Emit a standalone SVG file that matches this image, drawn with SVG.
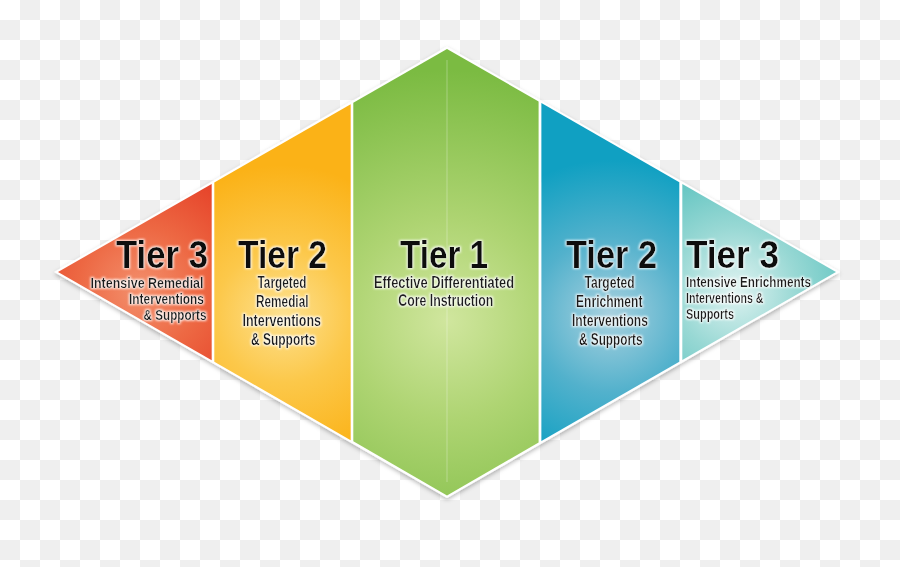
<svg xmlns="http://www.w3.org/2000/svg" width="900" height="567" viewBox="0 0 900 567">
  <defs>
    <pattern id="checker" width="40" height="40" patternUnits="userSpaceOnUse">
      <rect width="40" height="40" fill="#ffffff"/>
      <rect x="20" y="0" width="20" height="20" fill="#efefef"/>
      <rect x="0" y="20" width="20" height="20" fill="#efefef"/>
    </pattern>
    <filter id="shadow" x="-5%" y="-5%" width="110%" height="115%">
      <feDropShadow dx="0" dy="2" stdDeviation="2.2" flood-color="#000" flood-opacity="0.28"/>
    </filter>
    <filter id="halo" x="-10%" y="-30%" width="120%" height="160%">
      <feMorphology in="SourceAlpha" operator="dilate" radius="1.2" result="d"/>
      <feGaussianBlur in="d" stdDeviation="1" result="b"/>
      <feFlood flood-color="#ffffff" flood-opacity="0.85"/>
      <feComposite in2="b" operator="in" result="g"/>
      <feMerge><feMergeNode in="g"/><feMergeNode in="SourceGraphic"/></feMerge>
    </filter>
    <radialGradient id="gRed" gradientUnits="userSpaceOnUse" cx="140" cy="290" r="125">
      <stop offset="0" stop-color="#f3906d"/>
      <stop offset="0.5" stop-color="#ed6843"/>
      <stop offset="1" stop-color="#e6442a"/>
    </radialGradient>
    <radialGradient id="gOrange" gradientUnits="userSpaceOnUse" cx="283" cy="315" r="150">
      <stop offset="0" stop-color="#fde191"/>
      <stop offset="0.45" stop-color="#fcc84a"/>
      <stop offset="1" stop-color="#fbb217"/>
    </radialGradient>
    <radialGradient id="gGreen" gradientUnits="userSpaceOnUse" cx="447" cy="320" r="250">
      <stop offset="0" stop-color="#d0e69e"/>
      <stop offset="0.4" stop-color="#aed472"/>
      <stop offset="1" stop-color="#7bbb42"/>
    </radialGradient>
    <radialGradient id="gBlue" gradientUnits="userSpaceOnUse" cx="610" cy="315" r="155">
      <stop offset="0" stop-color="#a9d1df"/>
      <stop offset="0.5" stop-color="#52b1cc"/>
      <stop offset="1" stop-color="#10a0c2"/>
    </radialGradient>
    <radialGradient id="gTeal" gradientUnits="userSpaceOnUse" cx="735" cy="290" r="125">
      <stop offset="0" stop-color="#e0f3f1"/>
      <stop offset="0.5" stop-color="#98d8d4"/>
      <stop offset="1" stop-color="#5ec3c0"/>
    </radialGradient>
  </defs>
  <style>
    .tier { font-family: "Liberation Sans", Arial, sans-serif; font-weight: bold; font-size: 38px; fill: #111; }
    .sub { font-family: "Liberation Sans", Arial, sans-serif; font-weight: bold; font-size: 16px; fill: #1a1a1a; }
    .sub3 { font-family: "Liberation Sans", Arial, sans-serif; font-weight: bold; font-size: 15px; fill: #1a1a1a; }
    .txt { filter: url(#halo); }
  </style>

  <rect id="background" width="900" height="567" fill="url(#checker)"/>

  <g id="frame">
    <polygon points="54,272 447,46.5 840,272 447,498" fill="#ffffff" filter="url(#shadow)"/>
  </g>

  <g id="tier3-remedial">
    <polygon points="58,272 211.7,183.9 211.7,360.3" fill="url(#gRed)"/>
    <g class="txt">
      <text class="tier" x="116" y="268" textLength="92" lengthAdjust="spacingAndGlyphs">Tier 3</text>
      <text class="sub3" x="90.5" y="287.5" textLength="113" lengthAdjust="spacingAndGlyphs">Intensive Remedial</text>
      <text class="sub3" x="129" y="303.5" textLength="75" lengthAdjust="spacingAndGlyphs">Interventions</text>
      <text class="sub3" x="143.5" y="319.5" textLength="63" lengthAdjust="spacingAndGlyphs">&amp; Supports</text>
    </g>
  </g>

  <g id="tier2-remedial">
    <polygon points="214.3,182.4 350.7,104.2 350.7,440.2 214.3,361.8" fill="url(#gOrange)"/>
    <g class="txt">
      <text class="tier" x="238" y="267.5" textLength="89" lengthAdjust="spacingAndGlyphs">Tier 2</text>
      <text class="sub" x="257.5" y="287.5" textLength="49" lengthAdjust="spacingAndGlyphs">Targeted</text>
      <text class="sub" x="256" y="306.5" textLength="52.5" lengthAdjust="spacingAndGlyphs">Remedial</text>
      <text class="sub" x="242.5" y="326" textLength="78.5" lengthAdjust="spacingAndGlyphs">Interventions</text>
      <text class="sub" x="251" y="344.5" textLength="64.5" lengthAdjust="spacingAndGlyphs">&amp; Supports</text>
    </g>
  </g>

  <g id="tier1-core">
    <polygon points="353.3,102.7 447,49 538.6,101.5 538.6,442.5 447,495.5 353.3,441.3" fill="url(#gGreen)"/>
    <line x1="447" y1="60" x2="447" y2="482" stroke="#ffffff" stroke-opacity="0.3" stroke-width="1"/>
    <g class="txt">
      <text class="tier" x="400" y="268.3" textLength="88" lengthAdjust="spacingAndGlyphs">Tier 1</text>
      <text class="sub" x="374" y="287.7" textLength="140" lengthAdjust="spacingAndGlyphs">Effective Differentiated</text>
      <text class="sub" x="398.3" y="306" textLength="95" lengthAdjust="spacingAndGlyphs">Core Instruction</text>
    </g>
  </g>

  <g id="tier2-enrichment">
    <polygon points="541.4,103.1 679.3,182.2 679.3,361.8 541.4,440.9" fill="url(#gBlue)"/>
    <g class="txt">
      <text class="tier" x="566" y="267.5" textLength="91" lengthAdjust="spacingAndGlyphs">Tier 2</text>
      <text class="sub" x="584.5" y="287.5" textLength="50" lengthAdjust="spacingAndGlyphs">Targeted</text>
      <text class="sub" x="576" y="306.5" textLength="66.5" lengthAdjust="spacingAndGlyphs">Enrichment</text>
      <text class="sub" x="572" y="326" textLength="76" lengthAdjust="spacingAndGlyphs">Interventions</text>
      <text class="sub" x="579" y="344.5" textLength="63.5" lengthAdjust="spacingAndGlyphs">&amp; Supports</text>
    </g>
  </g>

  <g id="tier3-enrichment">
    <polygon points="682.3,183.9 836,272 682.3,360.1" fill="url(#gTeal)"/>
    <g class="txt">
      <text class="tier" x="686" y="267.5" textLength="93" lengthAdjust="spacingAndGlyphs">Tier 3</text>
      <text class="sub3" x="686" y="286.7" textLength="125" lengthAdjust="spacingAndGlyphs">Intensive Enrichments</text>
      <text class="sub3" x="686" y="303.3" textLength="77.5" lengthAdjust="spacingAndGlyphs">Interventions &amp;</text>
      <text class="sub3" x="686" y="319.3" textLength="48" lengthAdjust="spacingAndGlyphs">Supports</text>
    </g>
  </g>
</svg>
